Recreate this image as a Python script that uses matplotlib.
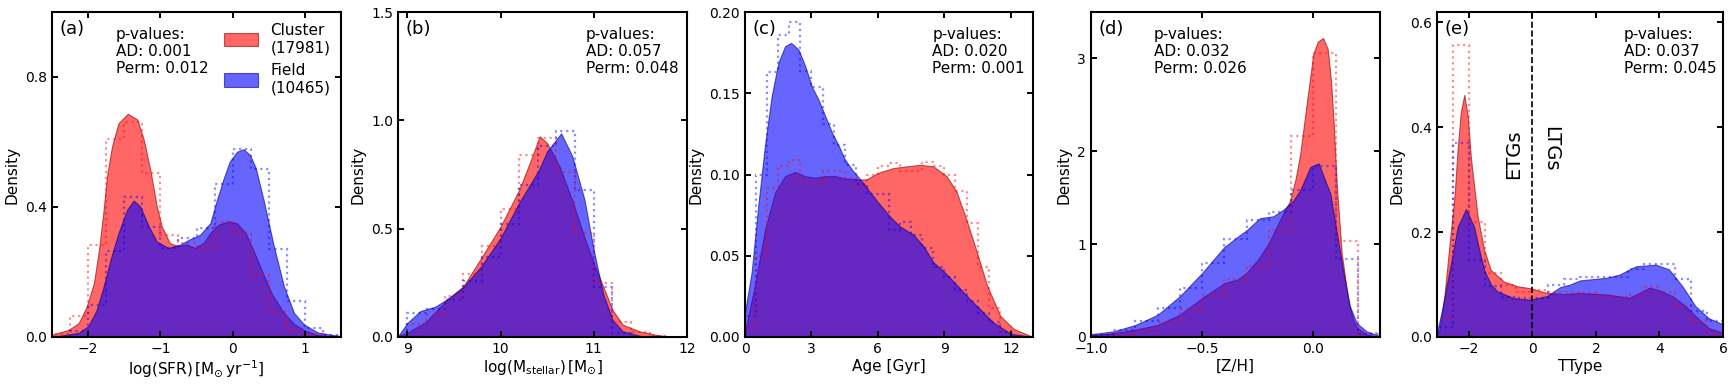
import numpy as np
import matplotlib
matplotlib.use("Agg")
import matplotlib.pyplot as plt

# ---------------- data ----------------
# (a) log(SFR)
sfr_cl_x = [-2.5, -2.27, -2.13, -2.02, -1.92, -1.85, -1.785, -1.74, -1.67, -1.58, -1.45, -1.32, -1.23,
            -1.14, -1.05, -0.98, -0.87, -0.75, -0.64, -0.52, -0.4, -0.31, -0.2, -0.06, 0.06, 0.18, 0.3,
            0.43, 0.55, 0.71, 0.85, 1.0, 1.15, 1.3, 1.5]
sfr_cl_y = [0.007, 0.022, 0.043, 0.094, 0.166, 0.269, 0.392, 0.494, 0.586, 0.658, 0.687, 0.669, 0.607,
            0.515, 0.402, 0.34, 0.289, 0.279, 0.285, 0.274, 0.29, 0.32, 0.345, 0.356, 0.35, 0.32, 0.26,
            0.19, 0.13, 0.074, 0.04, 0.02, 0.008, 0.003, 0.0]
sfr_fd_x = [-2.5, -2.13, -2.0, -1.88, -1.785, -1.69, -1.58, -1.46, -1.37, -1.28, -1.16, -1.05, -0.89,
            -0.73, -0.6, -0.54, -0.45, -0.31, -0.22, -0.13, -0.04, 0.06, 0.15, 0.24, 0.32, 0.43, 0.57,
            0.71, 0.85, 0.99, 1.18, 1.5]
sfr_fd_y = [0.0, 0.013, 0.033, 0.084, 0.156, 0.238, 0.32, 0.392, 0.42, 0.402, 0.34, 0.294, 0.274,
            0.284, 0.3, 0.305, 0.315, 0.35, 0.42, 0.484, 0.54, 0.57, 0.578, 0.56, 0.52, 0.42, 0.28,
            0.156, 0.074, 0.038, 0.014, 0.002]
sfr_edges = np.arange(-2.5, 1.51, 0.25)
sfr_cl_hist = [0.01, 0.066, 0.282, 0.61, 0.663, 0.505, 0.315, 0.29, 0.275, 0.353, 0.32, 0.19, 0.076,
               0.02, 0.01, 0.003]
sfr_fd_hist = [0.0, 0.017, 0.097, 0.266, 0.43, 0.34, 0.275, 0.305, 0.336, 0.47, 0.58, 0.518, 0.27,
               0.11, 0.028, 0.005]

# (b) log(M_stellar)
ms_cl_x = [8.9, 9.0, 9.2, 9.4, 9.6, 9.8, 10.0, 10.2, 10.31, 10.42, 10.5, 10.63, 10.77, 10.9, 11.0,
           11.1, 11.2, 11.31, 11.49, 11.67, 11.85]
ms_cl_y = [0.005, 0.02, 0.07, 0.16, 0.234, 0.37, 0.51, 0.68, 0.80, 0.926, 0.895, 0.79, 0.63, 0.46,
           0.34, 0.234, 0.126, 0.057, 0.026, 0.01, 0.0]
ms_fd_x = [8.9, 9.0, 9.14, 9.3, 9.41, 9.6, 9.8, 10.0, 10.2, 10.41, 10.5, 10.65, 10.77, 10.9, 11.0,
           11.1, 11.2, 11.31, 11.5, 11.7]
ms_fd_y = [0.003, 0.065, 0.12, 0.14, 0.17, 0.23, 0.33, 0.457, 0.62, 0.77, 0.857, 0.94, 0.834, 0.634,
           0.4, 0.2, 0.08, 0.026, 0.005, 0.0]
ms_edges = np.arange(9.0, 11.81, 0.2)
ms_cl_hist = [0.06, 0.10, 0.19, 0.29, 0.42, 0.59, 0.84, 0.92, 0.76, 0.48, 0.25, 0.07, 0.025, 0.005]
ms_fd_hist = [0.11, 0.13, 0.17, 0.26, 0.37, 0.52, 0.70, 0.88, 0.95, 0.68, 0.23, 0.02, 0.0, 0.0]

# (c) Age
age_cl_x = [0, 0.45, 0.9, 1.36, 1.81, 2.26, 2.71, 3.17, 3.62, 4.07, 4.52, 5.04, 5.49, 6.0, 6.7, 7.3,
            7.9, 8.5, 9.1, 9.56, 10.0, 10.47, 10.92, 11.52, 12.13, 13.0]
age_cl_y = [0.003, 0.032, 0.066, 0.089, 0.099, 0.1016, 0.099, 0.098, 0.099, 0.099, 0.0976, 0.097,
            0.097, 0.101, 0.104, 0.105, 0.106, 0.105, 0.099, 0.089, 0.072, 0.052, 0.032, 0.013, 0.005, 0.0]
age_fd_x = [0, 0.3, 0.6, 0.9, 1.2, 1.51, 1.81, 2.08, 2.41, 2.71, 3.02, 3.32, 3.62, 3.92, 4.22, 4.52,
            4.83, 5.2, 5.6, 6.0, 6.55, 7.0, 7.6, 8.05, 8.5, 9.0, 9.56, 10.17, 10.62, 11.2, 12.0, 13.0]
age_fd_y = [0.0153, 0.04, 0.081, 0.118, 0.148, 0.169, 0.179, 0.181, 0.177, 0.167, 0.154, 0.146, 0.136,
            0.126, 0.118, 0.109, 0.103, 0.097, 0.09, 0.083, 0.074, 0.068, 0.063, 0.056, 0.046, 0.04,
            0.032, 0.023, 0.017, 0.009, 0.002, 0.0]
age_edges = np.arange(0, 12.01, 0.5)
age_cl_hist = [0.007, 0.05, 0.092, 0.105, 0.109, 0.095, 0.095, 0.102, 0.102, 0.098, 0.093, 0.1, 0.105,
               0.107, 0.102, 0.102, 0.108, 0.105, 0.1, 0.09, 0.07, 0.043, 0.018, 0.004]
age_fd_hist = [0.013, 0.1, 0.163, 0.186, 0.194, 0.164, 0.154, 0.131, 0.118, 0.106, 0.094, 0.088, 0.088,
               0.066, 0.071, 0.063, 0.055, 0.043, 0.037, 0.029, 0.022, 0.015, 0.009, 0.003]

# (d) [Z/H]
zh_cl_x = [-1.0, -0.9, -0.8, -0.7, -0.6, -0.5, -0.4, -0.34, -0.3, -0.25, -0.2, -0.15, -0.104, -0.08,
           -0.059, -0.03, 0.0, 0.02, 0.044, 0.065, 0.08, 0.091, 0.106, 0.128, 0.159, 0.18, 0.197, 0.23,
           0.26, 0.3]
zh_cl_y = [0.02, 0.04, 0.08, 0.13, 0.24, 0.42, 0.58, 0.62, 0.69, 0.83, 1.01, 1.26, 1.47, 1.7, 1.97,
           2.51, 3.05, 3.18, 3.22, 3.1, 2.75, 2.33, 1.62, 0.9, 0.365, 0.18, 0.1, 0.04, 0.015, 0.003]
zh_fd_x = [-1.0, -0.9, -0.8, -0.7, -0.6, -0.5, -0.4, -0.34, -0.3, -0.24, -0.18, -0.135, -0.09, -0.059,
           -0.014, 0.024, 0.077, 0.106, 0.136, 0.165, 0.195, 0.24, 0.3]
zh_fd_y = [0.03, 0.06, 0.13, 0.24, 0.44, 0.69, 0.97, 1.08, 1.15, 1.28, 1.3, 1.37, 1.47, 1.58, 1.83,
           1.87, 1.54, 1.12, 0.69, 0.33, 0.15, 0.06, 0.01]
zh_edges = np.arange(-1.0, 0.31, 0.1)
zh_cl_hist = [0.01, 0.03, 0.08, 0.16, 0.3, 0.45, 0.62, 0.77, 1.15, 2.17, 3.06, 1.03, 0.04]
zh_fd_hist = [0.02, 0.08, 0.17, 0.31, 0.53, 0.8, 1.06, 1.26, 1.35, 1.58, 1.84, 0.84, 0.03]

# (e) TType
tt_cl_x = [-3, -2.92, -2.77, -2.6, -2.45, -2.35, -2.25, -2.14, -2.03, -1.93, -1.72, -1.52, -1.31, -0.9,
           -0.48, -0.06, 0.46, 1.0, 1.5, 2.33, 3.06, 3.37, 3.68, 4.0, 4.41, 4.82, 5.13, 5.55, 6.0]
tt_cl_y = [0.005, 0.014, 0.077, 0.18, 0.268, 0.36, 0.43, 0.462, 0.42, 0.34, 0.23, 0.167, 0.128, 0.106,
           0.097, 0.093, 0.084, 0.082, 0.084, 0.081, 0.075, 0.084, 0.094, 0.089, 0.078, 0.059, 0.04,
           0.017, 0.008]
tt_fd_x = [-3, -2.82, -2.56, -2.35, -2.09, -1.83, -1.72, -1.52, -1.3, -1.1, -0.58, -0.06, 0.46, 0.87,
           1.18, 1.5, 2.33, 2.74, 3.26, 3.89, 4.3, 4.72, 5.13, 5.55, 6.0]
tt_fd_y = [0.008, 0.058, 0.141, 0.21, 0.244, 0.21, 0.179, 0.128, 0.1, 0.087, 0.074, 0.071, 0.078, 0.095,
           0.1, 0.108, 0.113, 0.119, 0.135, 0.138, 0.129, 0.097, 0.059, 0.036, 0.024]
tt_edges = np.arange(-3, 6.01, 0.5)
tt_cl_hist = [0.037, 0.557, 0.219, 0.123, 0.1, 0.085, 0.09, 0.085, 0.085, 0.083, 0.08, 0.077, 0.08,
              0.095, 0.085, 0.06, 0.03, 0.01]
tt_fd_hist = [0.02, 0.37, 0.147, 0.097, 0.077, 0.075, 0.075, 0.1, 0.11, 0.115, 0.115, 0.115, 0.13, 0.14,
              0.14, 0.11, 0.05, 0.03]

p_ad = ["0.001", "0.057", "0.020", "0.032", "0.037"]
p_perm = ["0.012", "0.048", "0.001", "0.026", "0.045"]
n_cluster, n_field = 17981, 10465

# ---------------- plotting ----------------
panels = [
    (sfr_cl_x, sfr_cl_y, sfr_fd_x, sfr_fd_y, sfr_edges, sfr_cl_hist, sfr_fd_hist),
    (ms_cl_x, ms_cl_y, ms_fd_x, ms_fd_y, ms_edges, ms_cl_hist, ms_fd_hist),
    (age_cl_x, age_cl_y, age_fd_x, age_fd_y, age_edges, age_cl_hist, age_fd_hist),
    (zh_cl_x, zh_cl_y, zh_fd_x, zh_fd_y, zh_edges, zh_cl_hist, zh_fd_hist),
    (tt_cl_x, tt_cl_y, tt_fd_x, tt_fd_y, tt_edges, tt_cl_hist, tt_fd_hist),
]
letters = ["(a)", "(b)", "(c)", "(d)", "(e)"]
xlabels = [r"log(SFR)$\,[\mathrm{M_{\odot}\,yr^{-1}}]$",
           r"log(M$_{\rm stellar}$)$\,$[M$_{\odot}$]",
           "Age [Gyr]", "[Z/H]", "TType"]
xlims = [(-2.5, 1.5), (8.9, 12), (0, 13), (-1.0, 0.3), (-3, 6)]
ylims = [(0, 1.0), (0, 1.5), (0, 0.2), (0, 3.5), (0, 0.62)]
xticks = [[-2, -1, 0, 1], [9, 10, 11, 12], [0, 3, 6, 9, 12], [-1.0, -0.5, 0.0], [-2, 0, 2, 4, 6]]
yticks = [[0.0, 0.4, 0.8], [0.0, 0.5, 1.0, 1.5], [0.0, 0.05, 0.10, 0.15, 0.20], [0, 1, 2, 3],
          [0.0, 0.2, 0.4, 0.6]]
yfmt = ["{:.1f}", "{:.1f}", "{:.2f}", "{:.0f}", "{:.1f}"]
ptext_x = [0.22, 0.65, 0.65, 0.218, 0.654]

fig = plt.figure(figsize=(17.34, 3.88), dpi=100)
lefts = [52, 398, 745, 1091, 1437]
widths = [289, 289, 288, 289, 286]

for i, (cx, cy, fx, fy, edges, ch, fh) in enumerate(panels):
    ax = fig.add_axes([lefts[i] / 1734, 51 / 388, widths[i] / 1734, 325 / 388])

    ax.fill_between(cx, cy, color="red", alpha=0.6, edgecolor="darkred", lw=0.8,
                    label=f"Cluster\n({n_cluster})")
    ax.fill_between(fx, fy, color="blue", alpha=0.6, edgecolor="navy", lw=0.8,
                    label=f"Field\n({n_field})")
    ax.stairs(ch, edges, color="red", ls=":", lw=1.6, alpha=0.45)
    ax.stairs(fh, edges, color="blue", ls=":", lw=1.6, alpha=0.45)

    ax.set_xlim(xlims[i])
    ax.set_ylim(ylims[i])
    ax.set_xticks(xticks[i])
    ax.set_yticks(yticks[i])
    ax.set_yticklabels([yfmt[i].format(v) for v in yticks[i]])
    ax.tick_params(direction="in", top=True, right=True, length=4, width=1.4, labelsize=10)
    for s in ax.spines.values():
        s.set_linewidth(1.5)

    ax.set_xlabel(xlabels[i], fontsize=11, labelpad=2)
    ax.set_ylabel("Density", fontsize=11, labelpad=4)

    ax.text(0.025, 0.975, letters[i], transform=ax.transAxes, fontsize=13, va="top", ha="left")
    ax.text(ptext_x[i], 0.955, f"p-values:\nAD: {p_ad[i]}\nPerm: {p_perm[i]}",
            transform=ax.transAxes, fontsize=11, va="top", ha="left")

    if i == 0:
        ax.legend(loc="upper right", frameon=False, fontsize=11, handlelength=2.2,
                  handleheight=1.0, borderaxespad=0.3, labelspacing=0.5)
    if i == 4:
        ax.axvline(0, color="k", ls="--", lw=1.2)
        ax.text(-0.58, 0.348, "ETGs", rotation=90, fontsize=14, ha="center", va="center")
        ax.text(0.58, 0.36, "LTGs", rotation=270, fontsize=14, ha="center", va="center")

plt.savefig("out.png", dpi=100)
